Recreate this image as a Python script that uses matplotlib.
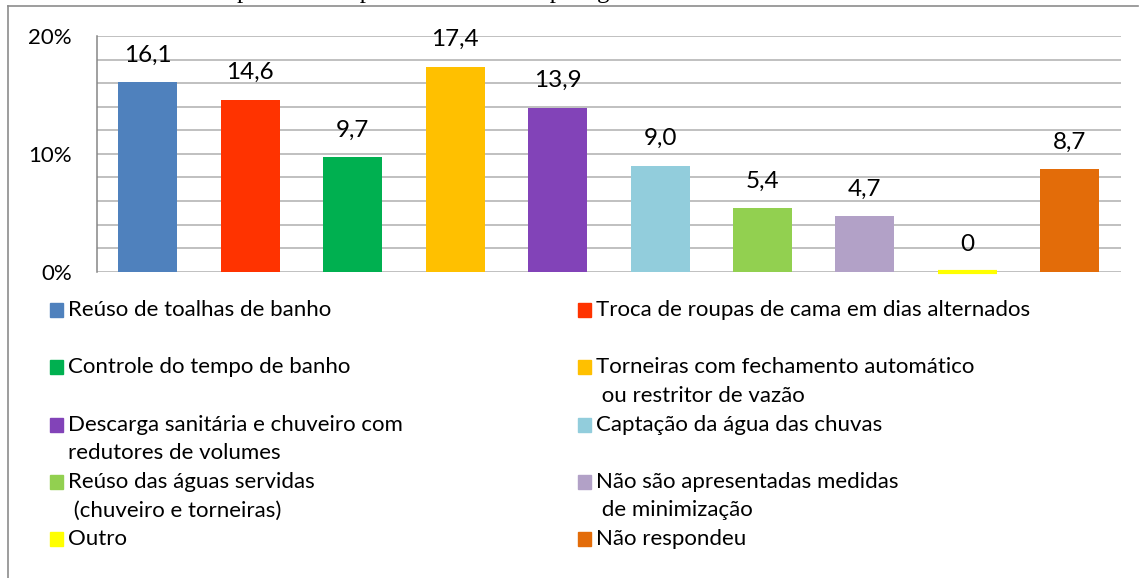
import matplotlib
matplotlib.use("Agg")
import matplotlib.pyplot as plt
from matplotlib.lines import Line2D
from matplotlib.patches import Rectangle

# data
categories = [
    "Reúso de toalhas de banho",
    "Troca de roupas de cama em dias alternados",
    "Controle do tempo de banho",
    "Torneiras com fechamento automático\n ou restritor de vazão",
    "Descarga sanitária e chuveiro com\nredutores de volumes",
    "Captação da água das chuvas",
    "Reúso das águas servidas\n (chuveiro e torneiras)",
    "Não são apresentadas medidas\n de minimização",
    "Outro",
    "Não respondeu",
]
values = [16.1, 14.6, 9.7, 17.4, 13.9, 9.0, 5.4, 4.7, 0, 8.7]
colors = ["#4F81BD", "#FF3300", "#00B050", "#FFC000", "#8243B8",
          "#92CDDC", "#92D050", "#B2A1C7", "#FFFF00", "#E36C09"]
yticks = [0, 10, 20]
ytick_labels = ["0%", "10%", "20%"]
title_cut = "apresentadas pelos meios de hospedagem"

plt.rcParams["font.family"] = ["Lato", "DejaVu Sans"]
FS = 16

W, H = 1148, 578
def fx(x):
    return x / W
def fy(y):
    return 1 - y / H

fig = plt.figure(figsize=(W / 100, H / 100), dpi=100)

# outer chart border (left + top only visible)
fig.add_artist(Line2D([fx(8), fx(8)], [fy(6), fy(600)], color="#8c8c8c", lw=1.2))
fig.add_artist(Line2D([fx(8), fx(1138)], [fy(6), fy(6)], color="#8c8c8c", lw=1.2))

# clipped caption from the page above
fig.text(fx(226), fy(-2), title_cut, family=["Liberation Serif", "DejaVu Serif"],
         fontsize=18, va="baseline", ha="left")

ax = fig.add_axes([fx(96.7), fy(271.7), (1121 - 96.7) / W, (271.7 - 36) / H])
x = range(len(values))
bars = ax.bar(x, values, width=0.576, color=colors, zorder=3)
# "Outro" has value 0 but is shown as a thin line
bars[8].set_edgecolor(colors[8])
bars[8].set_linewidth(3)
bars[8].set_clip_on(False)

for i, v in enumerate(values):
    lab = "0" if v == 0 else f"{v:.1f}".replace(".", ",")
    ax.annotate(lab, (i, v), xytext=(0, 19.5), textcoords="offset points",
                ha="center", va="center", fontsize=17.5, zorder=4)

ax.set_xlim(-0.5, len(values) - 0.5)
ax.set_ylim(0, 20)
ax.set_yticks(yticks)
ax.set_yticklabels(ytick_labels, fontsize=FS)
ax.set_yticks(range(0, 21, 2), minor=True)
ax.tick_params(axis="y", which="both", length=0, pad=18)
ax.set_xticks([])
ax.grid(axis="y", which="both", color="#c0c0c0", lw=1.4, zorder=0)
for s in ["top", "right", "bottom"]:
    ax.spines[s].set_visible(False)
ax.spines["left"].set_color("#868686")
ax.spines["left"].set_linewidth(1.1)

# legend, two columns drawn by hand
for i, (lab, c) in enumerate(zip(categories, colors)):
    row, col = divmod(i, 2)
    yc = 310 + 57.3 * row
    mx = 49.5 if col == 0 else 577.5
    tx = 68 if col == 0 else 596
    fig.add_artist(Rectangle((fx(mx), fy(yc + 7)), 13.5 / W, 14 / H,
                             transform=fig.transFigure, color=c))
    for k, line in enumerate(lab.split("\n")):
        fig.text(fx(tx), fy(yc + 28.5 * k), line, fontsize=FS, va="center", ha="left")

fig.savefig("out.png", dpi=100)
